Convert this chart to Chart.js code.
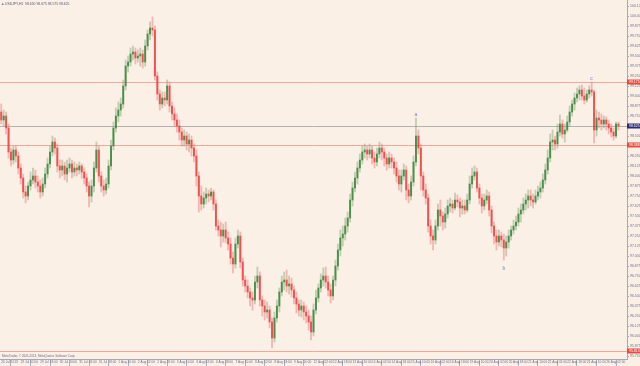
<!DOCTYPE html>
<html>
<head>
<meta charset="utf-8">
<script src="https://cdn.jsdelivr.net/npm/chart.js@4.4.1/dist/chart.umd.min.js"></script>
<style>
  html, body { margin: 0; padding: 0; background: #FAF0E6; }
  #wrap { width: 640px; height: 366px; position: relative; }
</style>
</head>
<body>
<div id="wrap"><canvas id="chart"></canvas></div>
<script>
const symbol = "USDJPY,H1";

// 2-hour candles from 26 Jul 2013 10:00
const opens = [
  98.800, 98.700, 98.750, 98.600, 98.300, 98.200, 98.325, 98.250, 98.100, 97.975,
  97.800, 97.750, 97.875, 97.950, 98.000, 97.925, 97.875, 97.800, 97.900, 98.025,
  98.150, 98.300, 98.425, 98.350, 98.125, 98.075, 98.125, 98.025, 98.100, 98.150,
  98.050, 98.100, 98.075, 98.125, 98.050, 97.975, 97.875, 97.750, 97.875, 98.100,
  98.325, 98.000, 97.875, 97.825, 97.900, 98.125, 98.375, 98.600, 98.750, 98.825,
  98.900, 99.125, 99.375, 99.425, 99.525, 99.550, 99.475, 99.500, 99.525, 99.425,
  99.625, 99.775, 99.850, 99.825, 99.250, 99.025, 98.900, 98.975, 98.950, 99.125,
  98.875, 98.775, 98.700, 98.625, 98.550, 98.450, 98.500, 98.400, 98.450, 98.350,
  98.250, 98.000, 97.750, 97.650, 97.725, 97.775, 97.750, 97.800, 97.650, 97.375,
  97.325, 97.250, 97.325, 97.225, 97.150, 96.975, 96.900, 97.150, 97.250, 96.925,
  96.700, 96.625, 96.550, 96.475, 96.450, 96.675, 96.750, 96.450, 96.375, 96.300,
  96.325, 96.175, 95.975, 96.225, 96.375, 96.550, 96.675, 96.700, 96.625, 96.650,
  96.575, 96.475, 96.400, 96.325, 96.375, 96.300, 96.250, 96.175, 96.050, 96.325,
  96.475, 96.600, 96.700, 96.750, 96.675, 96.575, 96.500, 96.700, 96.875, 97.075,
  97.225, 97.275, 97.375, 97.475, 97.700, 97.850, 97.975, 98.100, 98.200, 98.300,
  98.325, 98.275, 98.325, 98.225, 98.175, 98.275, 98.350, 98.300, 98.225, 98.150,
  98.225, 98.175, 98.100, 98.000, 97.900, 98.000, 98.075, 97.825, 97.750, 97.925,
  98.175, 98.500, 98.350, 98.000, 97.825, 97.725, 97.375, 97.250, 97.200, 97.375,
  97.575, 97.500, 97.425, 97.525, 97.625, 97.650, 97.600, 97.700, 97.675, 97.600,
  97.625, 97.575, 97.700, 97.900, 98.000, 98.050, 97.850, 97.725, 97.625, 97.700,
  97.750, 97.575, 97.375, 97.250, 97.175, 97.250, 97.200, 97.100, 97.175, 97.250,
  97.325, 97.375, 97.425, 97.525, 97.575, 97.650, 97.700, 97.750, 97.700, 97.675,
  97.750, 97.800, 97.850, 97.950, 98.075, 98.225, 98.425, 98.450, 98.400, 98.550,
  98.650, 98.525, 98.575, 98.675, 98.800, 98.900, 98.975, 99.025, 99.075, 99.000,
  98.950, 99.025, 99.075, 99.050, 98.575, 98.725, 98.700, 98.650, 98.700, 98.650,
  98.600, 98.550, 98.500, 98.650
];
const highs = [
  98.900, 98.825, 98.800, 98.650, 98.350, 98.375, 98.375, 98.300, 98.150, 98.025,
  97.875, 97.925, 98.050, 98.100, 98.075, 98.000, 97.950, 97.975, 98.100, 98.225,
  98.375, 98.500, 98.475, 98.400, 98.200, 98.200, 98.175, 98.200, 98.225, 98.200,
  98.175, 98.150, 98.175, 98.150, 98.100, 98.025, 97.925, 97.950, 98.175, 98.425,
  98.375, 98.050, 97.950, 97.975, 98.200, 98.450, 98.675, 98.850, 98.925, 98.975,
  99.200, 99.450, 99.500, 99.600, 99.625, 99.600, 99.575, 99.600, 99.575, 99.700,
  99.825, 99.925, 99.988, 99.875, 99.300, 99.075, 99.050, 99.050, 99.200, 99.175,
  98.925, 98.850, 98.775, 98.700, 98.600, 98.575, 98.550, 98.525, 98.500, 98.400,
  98.325, 98.050, 97.875, 97.800, 97.850, 97.825, 97.850, 97.825, 97.700, 97.450,
  97.425, 97.400, 97.425, 97.300, 97.225, 97.050, 97.225, 97.325, 97.300, 96.975,
  96.750, 96.700, 96.600, 96.550, 96.750, 96.863, 96.800, 96.500, 96.450, 96.425,
  96.375, 96.225, 96.300, 96.450, 96.600, 96.750, 96.800, 96.825, 96.750, 96.725,
  96.625, 96.550, 96.450, 96.450, 96.425, 96.375, 96.325, 96.250, 96.400, 96.575,
  96.650, 96.775, 96.850, 96.863, 96.750, 96.650, 96.750, 96.950, 97.150, 97.325,
  97.375, 97.475, 97.550, 97.775, 97.925, 98.050, 98.175, 98.275, 98.375, 98.400,
  98.375, 98.400, 98.375, 98.300, 98.350, 98.425, 98.400, 98.350, 98.275, 98.300,
  98.275, 98.225, 98.175, 98.075, 98.075, 98.150, 98.125, 97.900, 98.000, 98.250,
  98.725, 98.575, 98.400, 98.050, 97.900, 97.775, 97.450, 97.325, 97.450, 97.650,
  97.700, 97.550, 97.600, 97.700, 97.725, 97.700, 97.788, 97.763, 97.725, 97.700,
  97.700, 97.775, 98.000, 98.100, 98.125, 98.100, 97.900, 97.775, 97.775, 97.825,
  97.800, 97.625, 97.425, 97.325, 97.325, 97.300, 97.275, 97.250, 97.325, 97.375,
  97.450, 97.500, 97.600, 97.650, 97.725, 97.775, 97.825, 97.825, 97.775, 97.825,
  97.875, 97.925, 98.025, 98.150, 98.325, 98.525, 98.575, 98.500, 98.650, 98.763,
  98.700, 98.650, 98.750, 98.875, 98.950, 99.038, 99.100, 99.125, 99.138, 99.100,
  99.075, 99.125, 99.175, 99.075, 98.825, 98.800, 98.775, 98.750, 98.738, 98.700,
  98.650, 98.600, 98.675, 98.675
];
const lows = [
  98.650, 98.625, 98.525, 98.225, 98.125, 98.150, 98.175, 98.025, 97.900, 97.725,
  97.663, 97.700, 97.825, 97.900, 97.850, 97.800, 97.725, 97.750, 97.850, 97.975,
  98.100, 98.250, 98.275, 98.050, 97.975, 98.000, 97.950, 97.925, 98.050, 97.975,
  98.000, 98.000, 98.025, 97.975, 97.900, 97.800, 97.613, 97.675, 97.800, 98.050,
  97.925, 97.800, 97.750, 97.775, 97.850, 98.075, 98.325, 98.550, 98.675, 98.750,
  98.850, 99.075, 99.300, 99.375, 99.450, 99.400, 99.425, 99.375, 99.350, 99.375,
  99.575, 99.700, 99.750, 99.200, 98.950, 98.825, 98.850, 98.875, 98.900, 98.800,
  98.700, 98.625, 98.550, 98.450, 98.375, 98.375, 98.325, 98.300, 98.250, 98.175,
  97.875, 97.550, 97.575, 97.600, 97.650, 97.675, 97.700, 97.575, 97.325, 97.250,
  97.113, 97.175, 97.163, 97.075, 96.900, 96.788, 96.850, 97.100, 96.850, 96.625,
  96.550, 96.475, 96.375, 96.325, 96.400, 96.600, 96.375, 96.250, 96.200, 96.225,
  96.100, 95.850, 95.925, 96.175, 96.300, 96.500, 96.575, 96.550, 96.525, 96.488,
  96.400, 96.288, 96.250, 96.238, 96.200, 96.163, 96.075, 95.950, 96.000, 96.275,
  96.425, 96.550, 96.625, 96.600, 96.500, 96.413, 96.450, 96.625, 96.825, 97.000,
  97.125, 97.200, 97.300, 97.425, 97.625, 97.800, 97.900, 98.050, 98.150, 98.225,
  98.200, 98.225, 98.150, 98.100, 98.125, 98.225, 98.200, 98.125, 98.075, 98.100,
  98.100, 98.025, 97.925, 97.825, 97.800, 97.950, 97.700, 97.663, 97.700, 97.875,
  98.125, 98.275, 97.825, 97.750, 97.650, 97.300, 97.150, 97.075, 97.150, 97.325,
  97.375, 97.325, 97.350, 97.475, 97.550, 97.538, 97.575, 97.613, 97.488, 97.525,
  97.525, 97.550, 97.650, 97.850, 97.950, 97.800, 97.650, 97.538, 97.575, 97.650,
  97.500, 97.288, 97.150, 97.075, 97.125, 97.113, 96.950, 97.000, 97.100, 97.200,
  97.275, 97.325, 97.375, 97.425, 97.525, 97.575, 97.600, 97.625, 97.600, 97.650,
  97.700, 97.725, 97.800, 97.900, 98.025, 98.175, 98.325, 98.325, 98.350, 98.500,
  98.475, 98.425, 98.550, 98.625, 98.750, 98.825, 98.925, 98.950, 98.950, 98.900,
  98.925, 98.975, 99.000, 98.413, 98.500, 98.600, 98.575, 98.600, 98.575, 98.525,
  98.488, 98.450, 98.475, 98.575
];
const closes = [
  98.700, 98.750, 98.600, 98.300, 98.200, 98.325, 98.250, 98.100, 97.975, 97.800,
  97.750, 97.875, 97.950, 98.000, 97.925, 97.875, 97.800, 97.900, 98.025, 98.150,
  98.300, 98.425, 98.350, 98.125, 98.075, 98.125, 98.025, 98.100, 98.150, 98.050,
  98.100, 98.075, 98.125, 98.050, 97.975, 97.875, 97.750, 97.875, 98.100, 98.325,
  98.000, 97.875, 97.825, 97.900, 98.125, 98.375, 98.600, 98.750, 98.825, 98.900,
  99.125, 99.375, 99.425, 99.525, 99.550, 99.475, 99.500, 99.525, 99.425, 99.625,
  99.775, 99.850, 99.825, 99.250, 99.025, 98.900, 98.975, 98.950, 99.125, 98.875,
  98.775, 98.700, 98.625, 98.550, 98.450, 98.500, 98.400, 98.450, 98.350, 98.250,
  98.000, 97.750, 97.650, 97.725, 97.775, 97.750, 97.800, 97.650, 97.375, 97.325,
  97.250, 97.325, 97.225, 97.150, 96.975, 96.900, 97.150, 97.250, 96.925, 96.700,
  96.625, 96.550, 96.475, 96.450, 96.675, 96.750, 96.450, 96.375, 96.300, 96.325,
  96.175, 95.975, 96.225, 96.375, 96.550, 96.675, 96.700, 96.625, 96.650, 96.575,
  96.475, 96.400, 96.325, 96.375, 96.300, 96.250, 96.175, 96.050, 96.325, 96.475,
  96.600, 96.700, 96.750, 96.675, 96.575, 96.500, 96.700, 96.875, 97.075, 97.225,
  97.275, 97.375, 97.475, 97.700, 97.850, 97.975, 98.100, 98.200, 98.300, 98.325,
  98.275, 98.325, 98.225, 98.175, 98.275, 98.350, 98.300, 98.225, 98.150, 98.225,
  98.175, 98.100, 98.000, 97.900, 98.000, 98.075, 97.825, 97.750, 97.925, 98.175,
  98.500, 98.350, 98.000, 97.825, 97.725, 97.375, 97.250, 97.200, 97.375, 97.575,
  97.500, 97.425, 97.525, 97.625, 97.650, 97.600, 97.700, 97.675, 97.600, 97.625,
  97.575, 97.700, 97.900, 98.000, 98.050, 97.850, 97.725, 97.625, 97.700, 97.750,
  97.575, 97.375, 97.250, 97.175, 97.250, 97.200, 97.100, 97.175, 97.250, 97.325,
  97.375, 97.425, 97.525, 97.575, 97.650, 97.700, 97.750, 97.700, 97.675, 97.750,
  97.800, 97.850, 97.950, 98.075, 98.225, 98.425, 98.450, 98.400, 98.550, 98.650,
  98.525, 98.575, 98.675, 98.800, 98.900, 98.975, 99.025, 99.075, 99.000, 98.950,
  99.025, 99.075, 99.050, 98.575, 98.725, 98.700, 98.650, 98.700, 98.650, 98.600,
  98.550, 98.500, 98.650, 98.625
];

// one label every 8 candles
const xTickLabels = [
  "26 Jul 2013", "29 Jul 02:00", "29 Jul 18:00", "30 Jul 10:00", "31 Jul 02:00", "31 Jul 18:00",
  "1 Aug 10:00", "2 Aug 02:00", "2 Aug 18:00", "5 Aug 10:00", "6 Aug 02:00", "6 Aug 18:00",
  "7 Aug 10:00", "8 Aug 02:00", "8 Aug 18:00", "9 Aug 10:00", "12 Aug 02:00", "12 Aug 18:00",
  "13 Aug 10:00", "14 Aug 02:00", "14 Aug 18:00", "15 Aug 10:00", "16 Aug 02:00", "16 Aug 18:00",
  "19 Aug 10:00", "20 Aug 02:00", "20 Aug 18:00", "21 Aug 10:00", "22 Aug 02:00", "22 Aug 18:00",
  "23 Aug 10:00", "26 Aug 02:00"
];
const yTickValues = [
  100.125, 100.000, 99.875, 99.750, 99.625, 99.500, 99.375, 99.250, 99.125, 99.000,
  98.875, 98.750, 98.625, 98.500, 98.375, 98.250, 98.125, 98.000, 97.875, 97.750,
  97.625, 97.500, 97.375, 97.250, 97.125, 97.000, 96.875, 96.750, 96.625, 96.500,
  96.375, 96.250, 96.125, 96.000, 95.875, 95.750
];

const levels = [99.175, 98.388, 95.813];
const bidPrice = 98.625;

const marks = ["a", "b", "c"];
const markIndex = [170, 206, 242];
const markPrice = [98.725, 96.950, 99.175];
const markBelow = [false, true, false];

const labelEvery = 8;
const shiftBars = 3;
const categories = Array.from({length: closes.length + shiftBars}, (_, i) => i);

const bodies = opens.map((o, i) => [o, closes[i]]);
const wicks = lows.map((l, i) => [l, highs[i]]);
const isBull = opens.map((o, i) => closes[i] >= o);

const FONT = '"Liberation Sans", Arial, sans-serif';

const overlay = {
  id: 'overlay',
  beforeDatasetsDraw(chart) {
    const {ctx, chartArea: a, scales: {y}} = chart;
    ctx.save();
    ctx.lineWidth = 1;
    ctx.strokeStyle = '#f3a79d';
    levels.forEach(v => {
      const py = Math.round(y.getPixelForValue(v)) + 0.5;
      ctx.beginPath(); ctx.moveTo(a.left, py); ctx.lineTo(a.right, py); ctx.stroke();
    });
    const by = Math.round(y.getPixelForValue(bidPrice)) + 0.5;
    ctx.strokeStyle = '#b2b2b2';
    ctx.beginPath(); ctx.moveTo(a.left, by); ctx.lineTo(a.right, by); ctx.stroke();
    ctx.restore();
  },
  afterDraw(chart) {
    const {ctx, chartArea: a, scales: {x, y}} = chart;
    ctx.save();

    // price boxes on the axis
    const box = (v, fill) => {
      const py = y.getPixelForValue(v);
      ctx.fillStyle = fill;
      ctx.fillRect(a.right, py - 2.5, chart.width - a.right, 5);
      ctx.fillStyle = '#ffffff';
      ctx.font = '3.5px ' + FONT;
      ctx.textBaseline = 'middle';
      ctx.textAlign = 'left';
      ctx.fillText(v.toFixed(3), a.right + 2, py);
    };
    levels.forEach(v => box(v, '#ea4a3e'));
    box(bidPrice, '#2b2b78');

    // wave labels
    ctx.fillStyle = '#7b7bd8';
    ctx.font = '5px ' + FONT;
    ctx.textAlign = 'center';
    marks.forEach((m, i) => {
      const px = x.getPixelForValue(markIndex[i]);
      const py = y.getPixelForValue(markPrice[i]);
      ctx.textBaseline = markBelow[i] ? 'top' : 'bottom';
      ctx.fillText(m, px, markBelow[i] ? py + 6 : py - 1);
    });

    // header and footer text
    const n = closes.length - 1;
    ctx.textAlign = 'left';
    ctx.textBaseline = 'top';
    ctx.fillStyle = '#55557a';
    ctx.font = '3.4px ' + FONT;
    ctx.fillText(symbol + '  ' + [opens[n], highs[n], lows[n], closes[n]].map(v => v.toFixed(3)).join(' '), 5, 2);
    ctx.fillStyle = '#8a8aa8';
    ctx.beginPath(); ctx.moveTo(1.5, 5); ctx.lineTo(4, 5); ctx.lineTo(2.75, 2.5); ctx.closePath(); ctx.fill();
    ctx.fillStyle = '#6d6d90';
    ctx.font = '3px ' + FONT;
    ctx.textBaseline = 'alphabetic';
    ctx.fillText('MetaTrader, \u00a9 2001-2013, MetaQuotes Software Corp.', 2, 357);
    ctx.restore();
  }
};

new Chart(document.getElementById('chart'), {
  type: 'bar',
  data: {
    labels: categories,
    datasets: [
      {
        label: 'body',
        data: bodies,
        backgroundColor: isBull.map(b => b ? 'rgba(30,125,40,0.75)' : 'rgba(240,45,45,0.75)'),
        barThickness: 1.3,
        grouped: false,
        order: 0
      },
      {
        label: 'wick',
        data: wicks,
        backgroundColor: isBull.map(b => b ? 'rgba(130,160,115,0.45)' : 'rgba(242,125,125,0.5)'),
        barThickness: 1.2,
        grouped: false,
        order: 1
      }
    ]
  },
  options: {
    responsive: true,
    maintainAspectRatio: false,
    animation: false,
    events: [],
    layout: { padding: 0 },
    plugins: { legend: { display: false }, tooltip: { enabled: false } },
    scales: {
      x: {
        type: 'category',
        grid: { drawOnChartArea: false, drawTicks: true, tickLength: 7, color: '#b0b0b8' },
        border: { display: true, color: '#a8a8b0' },
        afterBuildTicks: s => { s.ticks = s.ticks.filter(t => t.value % labelEvery === 0 && t.value / labelEvery < xTickLabels.length); },
        afterFit: s => { s.height = 7; s.paddingLeft = 0; s.paddingRight = 0; },
        ticks: {
          autoSkip: false, maxRotation: 0, minRotation: 0, align: 'start', padding: -6,
          color: '#6f6f92', font: { size: 3.2, family: FONT },
          callback: v => xTickLabels[v / labelEvery]
        }
      },
      y: {
        type: 'linear',
        position: 'right',
        min: 95.7125,
        max: 100.2,
        grid: { drawOnChartArea: false, tickLength: 2, color: '#a8a8b0' },
        border: { display: true, color: '#a8a8b0' },
        afterBuildTicks: s => { s.ticks = yTickValues.map(v => ({value: v})); },
        afterFit: s => { s.width = 13; s.paddingTop = 0; s.paddingBottom = 0; },
        ticks: {
          padding: 1, color: '#6f6f98', font: { size: 3.5, family: FONT },
          callback: v => v.toFixed(3)
        }
      }
    }
  },
  plugins: [overlay]
});
</script>
</body>
</html>
